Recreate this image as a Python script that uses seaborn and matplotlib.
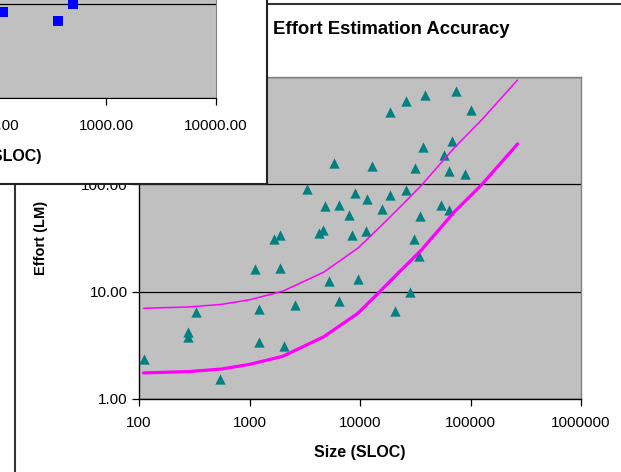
import matplotlib
matplotlib.use('Agg')
import matplotlib.pyplot as plt
from matplotlib.lines import Line2D
from matplotlib.ticker import FixedLocator, FuncFormatter, NullLocator
import seaborn as sns
import pandas as pd

# projects: size (SLOC) vs actual effort (LM)
size_sloc = [5800, 12850, 3300, 9010, 11580, 4810, 6440, 7940, 1870, 1650,
             4610, 4240, 8460, 11340, 1110, 1870, 18750, 26200, 39000, 74600,
             100000, 37400, 68600, 58000, 31600, 64400, 90100, 18750, 26200, 15850,
             35100, 54500, 64400, 31000, 34400, 5230, 9590, 330, 1230, 2570,
             6440, 279, 279, 1230, 2040, 111, 545, 28500, 20800]
effort_lm = [158, 148, 90.6, 83.2, 73.1, 62.9, 64.3, 51.9, 33.8, 31.0,
             37.6, 35.2, 33.8, 36.8, 16.3, 16.6, 473, 599, 681, 742,
             494, 223, 254, 188, 142, 133, 125, 79.7, 88.7, 59.0,
             50.8, 64.3, 57.7, 31.0, 21.5, 12.6, 13.1, 6.47, 6.90, 7.52,
             8.19, 4.21, 3.78, 3.40, 3.12, 2.36, 1.54, 9.94, 6.61]

# estimation bounds
curve_sloc = [110, 280, 550, 1000, 2000, 4700, 9600, 15500, 23600, 36000, 71000, 126000, 267000]
upper_lm = [7.0, 7.2, 7.6, 8.4, 10.1, 15.2, 25.5, 41, 63, 98, 218, 398, 940]
lower_lm = [1.75, 1.8, 1.9, 2.1, 2.5, 3.8, 6.3, 10.3, 15.9, 24.5, 55, 99, 238]

# chart in the background (only a corner is visible)
back_sloc = [116, 366, 501]
back_lm = [8.2, 6.6, 10.0]

x_ticks = [100, 1000, 10000, 100000, 1000000]
y_ticks = [1, 10, 100, 1000]
back_x_ticks = [1, 10, 100, 1000, 10000]

sns.set_style('white')
plt.rcParams['font.family'] = ['Liberation Sans', 'DejaVu Sans']
plt.rcParams['text.color'] = 'black'
plt.rcParams['axes.labelcolor'] = 'black'

W, H = 621, 472
TICK_FS = 11


def box(x0, y0, x1, y1):
    # pixel box (top-left origin) -> figure fraction
    return [x0 / W, 1 - y1 / H, (x1 - x0) / W, (y1 - y0) / H]


fig = plt.figure(figsize=(W / 100, H / 100), dpi=100)
fig.patch.set_facecolor('white')

# main chart frame
fig.add_artist(Line2D([15 / W, 15 / W, 1], [0, 1 - 4 / H, 1 - 4 / H],
                      transform=fig.transFigure, color='#333333', lw=1.5, zorder=1))
fig.text(391 / W, 1 - 30 / H, 'Effort Estimation Accuracy', ha='center', va='center',
         fontsize=13.3, fontweight='bold', color='black')

ax = fig.add_axes(box(139, 77, 581, 399))
ax.set_facecolor('#C0C0C0')
df = pd.DataFrame({'size': size_sloc, 'effort': effort_lm})
curves = pd.DataFrame({'size': curve_sloc, 'upper': upper_lm, 'lower': lower_lm})
sns.scatterplot(data=df, x='size', y='effort', marker='^', s=55, color='#008080',
                linewidth=0, ax=ax, zorder=3)
sns.lineplot(data=curves, x='size', y='upper', color='#FF00FF', lw=1.1, sort=False,
             estimator=None, ax=ax, zorder=4)
sns.lineplot(data=curves, x='size', y='lower', color='#FF00FF', lw=2.3, sort=False,
             estimator=None, ax=ax, zorder=4)
ax.set(xscale='log', yscale='log')
ax.set_xlim(100, 1000000)
ax.set_ylim(1, 1000)
ax.xaxis.set_major_locator(FixedLocator(x_ticks))
ax.yaxis.set_major_locator(FixedLocator(y_ticks))
ax.xaxis.set_minor_locator(NullLocator())
ax.yaxis.set_minor_locator(NullLocator())
ax.xaxis.set_major_formatter(FuncFormatter(lambda v, p: '%d' % round(v)))
ax.yaxis.set_major_formatter(FuncFormatter(lambda v, p: '%.2f' % v))
ax.grid(axis='y', color='black', lw=0.9)
ax.grid(axis='x', visible=False)
ax.tick_params(direction='out', length=5, width=0.9, labelsize=TICK_FS, pad=3,
               bottom=True, left=True, colors='black')
ax.tick_params(axis='x', pad=7)
for side in ['left', 'bottom']:
    ax.spines[side].set_color('black')
    ax.spines[side].set_linewidth(1)
for side in ['top', 'right']:
    ax.spines[side].set_color('#808080')
    ax.spines[side].set_linewidth(1)
ax.set_xlabel('Size (SLOC)', fontsize=11.5, fontweight='bold', labelpad=11)
ax.set_ylabel('Effort (LM)', fontsize=10.5, fontweight='bold')
ax.yaxis.set_label_coords((48 - 139) / 442, 0.5)

# background chart window on top
ax_box = fig.add_axes(box(-5, -5, 267, 184), zorder=5)
ax_box.set_facecolor('white')
ax_box.set_xticks([])
ax_box.set_yticks([])
for side in ['top', 'left']:
    ax_box.spines[side].set_visible(False)
for side in ['right', 'bottom']:
    ax_box.spines[side].set_color('#222222')
    ax_box.spines[side].set_linewidth(1.5)

ax2 = fig.add_axes(box(-224, -184, 216, 98), zorder=6)
ax2.set_facecolor('#C0C0C0')
sns.scatterplot(x=back_sloc, y=back_lm, marker='s', s=45, color='#0000FF', linewidth=0,
                ax=ax2, zorder=3, clip_on=False)
ax2.set(xscale='log', yscale='log')
ax2.set_xlim(1, 10000)
ax2.set_ylim(1, 1000)
ax2.xaxis.set_major_locator(FixedLocator(back_x_ticks))
ax2.yaxis.set_major_locator(FixedLocator(y_ticks))
ax2.xaxis.set_minor_locator(NullLocator())
ax2.yaxis.set_minor_locator(NullLocator())
ax2.xaxis.set_major_formatter(FuncFormatter(lambda v, p: '%.2f' % v))
ax2.yaxis.set_major_formatter(FuncFormatter(lambda v, p: '%.2f' % v))
ax2.grid(axis='y', color='black', lw=0.9)
ax2.grid(axis='x', visible=False)
ax2.tick_params(direction='out', length=5, width=0.9, labelsize=TICK_FS, bottom=True,
                left=True, colors='black')
ax2.tick_params(axis='x', pad=10)
for side in ['left', 'bottom']:
    ax2.spines[side].set_color('black')
for side in ['top', 'right']:
    ax2.spines[side].set_color('#808080')
ax2.set_xlabel('Size (SLOC)', fontsize=11.5, fontweight='bold', labelpad=12)

fig.savefig('out.png', dpi=100)
